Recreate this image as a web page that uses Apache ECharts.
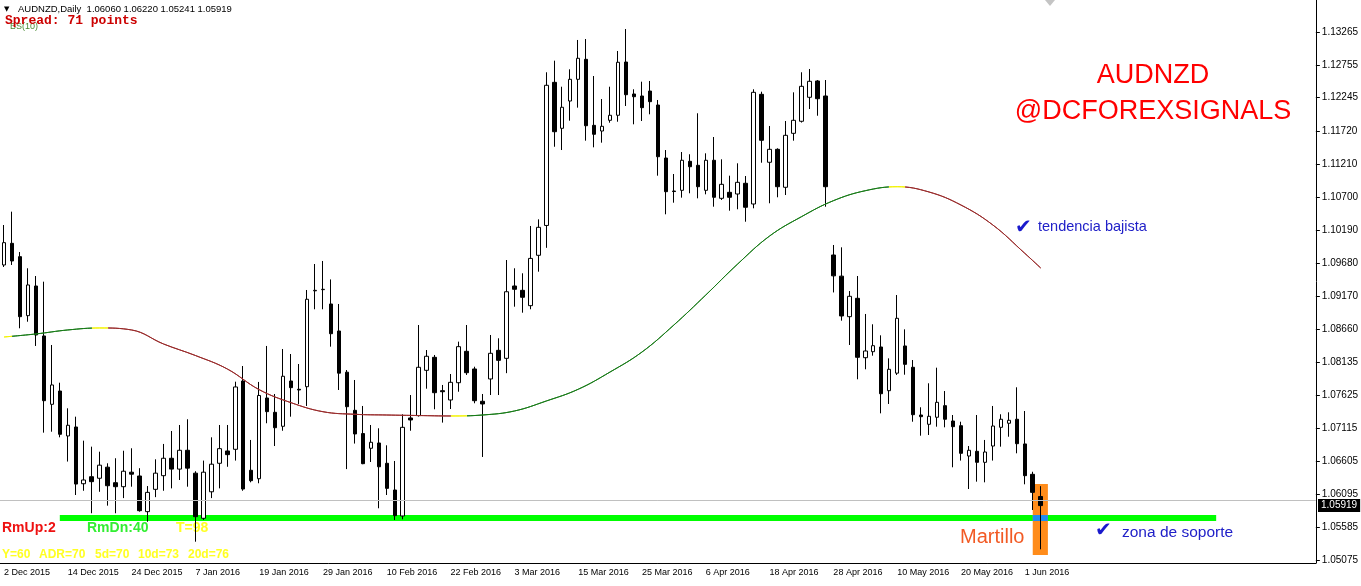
<!DOCTYPE html>
<html><head><meta charset="utf-8">
<script src="https://cdn.jsdelivr.net/npm/echarts@6/dist/echarts.min.js"></script>
<style>html,body{margin:0;padding:0;background:#fff}#c{width:1361px;height:586px}</style>
</head><body><div id="c"></div>
<script>
const dates = [
'2 Dec 2015','3 Dec 2015','4 Dec 2015','7 Dec 2015','8 Dec 2015','9 Dec 2015','10 Dec 2015','11 Dec 2015','14 Dec 2015','15 Dec 2015','16 Dec 2015','17 Dec 2015','18 Dec 2015','21 Dec 2015','22 Dec 2015','23 Dec 2015','24 Dec 2015','28 Dec 2015','29 Dec 2015','30 Dec 2015','31 Dec 2015',
'4 Jan 2016','5 Jan 2016','6 Jan 2016','7 Jan 2016','8 Jan 2016','11 Jan 2016','12 Jan 2016','13 Jan 2016','14 Jan 2016','15 Jan 2016','18 Jan 2016','19 Jan 2016','20 Jan 2016','21 Jan 2016','22 Jan 2016','25 Jan 2016','26 Jan 2016','27 Jan 2016','28 Jan 2016','29 Jan 2016',
'1 Feb 2016','2 Feb 2016','3 Feb 2016','4 Feb 2016','5 Feb 2016','8 Feb 2016','9 Feb 2016','10 Feb 2016','11 Feb 2016','12 Feb 2016','15 Feb 2016','16 Feb 2016','17 Feb 2016','18 Feb 2016','19 Feb 2016','22 Feb 2016','23 Feb 2016','24 Feb 2016','25 Feb 2016','26 Feb 2016','29 Feb 2016',
'1 Mar 2016','2 Mar 2016','3 Mar 2016','4 Mar 2016','7 Mar 2016','8 Mar 2016','9 Mar 2016','10 Mar 2016','11 Mar 2016','14 Mar 2016','15 Mar 2016','16 Mar 2016','17 Mar 2016','18 Mar 2016','21 Mar 2016','22 Mar 2016','23 Mar 2016','24 Mar 2016','25 Mar 2016','28 Mar 2016','29 Mar 2016','30 Mar 2016','31 Mar 2016',
'1 Apr 2016','4 Apr 2016','5 Apr 2016','6 Apr 2016','7 Apr 2016','8 Apr 2016','11 Apr 2016','12 Apr 2016','13 Apr 2016','14 Apr 2016','15 Apr 2016','18 Apr 2016','19 Apr 2016','20 Apr 2016','21 Apr 2016','22 Apr 2016','25 Apr 2016','26 Apr 2016','27 Apr 2016','28 Apr 2016','29 Apr 2016',
'2 May 2016','3 May 2016','4 May 2016','5 May 2016','6 May 2016','9 May 2016','10 May 2016','11 May 2016','12 May 2016','13 May 2016','16 May 2016','17 May 2016','18 May 2016','19 May 2016','20 May 2016','23 May 2016','24 May 2016','25 May 2016','26 May 2016','27 May 2016','30 May 2016','31 May 2016',
'1 Jun 2016','2 Jun 2016','3 Jun 2016'
];
const shiftSlots = 34; // empty space to the right of the last bar (chart shift)

const opens = [1.09651,1.09987,1.09780,1.08865,1.09325,1.08550,1.07490,1.07696,1.06999,1.07138,1.06258,1.06367,1.06343,1.06515,1.06274,1.06212,1.06437,1.06378,1.05825,1.06171,1.06383,1.06653,1.06485,1.06777,1.06422,1.05722,1.06133,1.06575,1.06766,1.06792,1.07851,1.06467,1.06336,1.07588,1.07366,1.07149,1.07851,1.07723,1.07763,1.09250,1.09268,1.09046,1.08627,1.07988,1.07397,1.07036,1.06808,1.06890,1.06575,1.06161,1.05758,1.07278,1.07314,1.08017,1.08219,1.07701,1.07557,1.07825,1.08312,1.08038,1.07537,1.07883,1.08327,1.08203,1.09325,1.09258,1.09020,1.09801,1.10264,1.12484,1.11771,1.12194,1.12531,1.12841,1.11817,1.11729,1.11895,1.11973,1.12799,1.12303,1.12272,1.12349,1.12132,1.11310,1.10798,1.10809,1.11259,1.11197,1.10809,1.11275,1.10685,1.10778,1.10752,1.10918,1.10597,1.12298,1.11244,1.11445,1.10856,1.11693,1.11880,1.12252,1.12505,1.12272,1.09806,1.09478,1.08849,1.09134,1.08213,1.08306,1.08379,1.07701,1.07973,1.08395,1.08064,1.07324,1.07180,1.07289,1.07469,1.07231,1.07158,1.06688,1.06761,1.06590,1.06843,1.07133,1.07196,1.07258,1.06875,1.06404,1.06060];
const closes = [1.09997,1.09713,1.08849,1.09341,1.08565,1.07546,1.07790,1.07025,1.07165,1.06253,1.06316,1.06290,1.06546,1.06227,1.06212,1.06452,1.06406,1.05840,1.06124,1.06422,1.06653,1.06485,1.06777,1.06500,1.05747,1.06437,1.06561,1.06802,1.06709,1.07759,1.06176,1.06305,1.07627,1.07376,1.07127,1.07925,1.07748,1.07712,1.09119,1.09258,1.09274,1.08585,1.07973,1.07453,1.07030,1.06569,1.06901,1.06521,1.06186,1.05763,1.07133,1.07247,1.08064,1.08235,1.07670,1.07685,1.07831,1.08384,1.07980,1.07546,1.07495,1.08281,1.08172,1.09236,1.09274,1.09150,1.09753,1.10235,1.12438,1.11718,1.12097,1.12531,1.12857,1.11811,1.11678,1.11802,1.11973,1.12795,1.12292,1.12261,1.12091,1.12184,1.11330,1.10788,1.10790,1.11275,1.11175,1.10865,1.11275,1.10701,1.10902,1.10701,1.10933,1.10546,1.12329,1.11585,1.11445,1.10865,1.11662,1.11895,1.12422,1.12500,1.12230,1.10865,1.09482,1.08860,1.09165,1.08219,1.08317,1.08399,1.07654,1.08033,1.08824,1.08110,1.07329,1.07298,1.07304,1.07521,1.07258,1.07143,1.06730,1.06777,1.06590,1.06750,1.07153,1.07258,1.07242,1.06879,1.06383,1.06124,1.05919];
const lows = [1.09620,1.09651,1.08669,1.08771,1.08395,1.07050,1.07065,1.06978,1.06602,1.06083,1.06149,1.05800,1.06133,1.05918,1.05800,1.06035,1.06212,1.05825,1.05669,1.06050,1.06149,1.06186,1.06316,1.06212,1.05359,1.05696,1.06035,1.06186,1.06521,1.06617,1.06149,1.06280,1.06265,1.07196,1.06843,1.07080,1.07298,1.07495,1.07464,1.08964,1.08964,1.08384,1.07712,1.06485,1.06881,1.06561,1.06595,1.05877,1.06083,1.05696,1.05707,1.07080,1.07300,1.07732,1.07413,1.07206,1.07417,1.07685,1.07945,1.07506,1.06673,1.07634,1.07634,1.07973,1.09004,1.08911,1.08964,1.09547,1.09917,1.11485,1.11434,1.11889,1.12091,1.11579,1.11476,1.11548,1.11858,1.11873,1.12117,1.11833,1.11884,1.11988,1.11036,1.10437,1.10617,1.10695,1.10763,1.10685,1.10747,1.10555,1.10659,1.10493,1.10515,1.10322,1.10530,1.11237,1.10608,1.10701,1.10736,1.11579,1.11860,1.12070,1.11966,1.10555,1.09225,1.08787,1.08410,1.07878,1.08033,1.08244,1.07350,1.07495,1.07945,1.07949,1.07220,1.07003,1.07014,1.07143,1.07133,1.06513,1.06617,1.06176,1.06290,1.06280,1.06617,1.06833,1.06987,1.06730,1.06249,1.05851,1.05241];
const highs = [1.10271,1.10478,1.09852,1.09600,1.09480,1.09392,1.08410,1.07825,1.07428,1.07298,1.06926,1.06833,1.06755,1.06575,1.06653,1.06770,1.06808,1.06499,1.06222,1.06637,1.06875,1.07076,1.07169,1.07258,1.06452,1.06617,1.06978,1.07169,1.07169,1.07841,1.08084,1.06937,1.07837,1.08395,1.07650,1.08348,1.08270,1.08115,1.09263,1.09666,1.09713,1.09427,1.09046,1.08022,1.07867,1.07464,1.07169,1.07118,1.06854,1.06611,1.07335,1.07634,1.08720,1.08332,1.08255,1.07790,1.07960,1.08462,1.08720,1.08073,1.07650,1.08565,1.08514,1.09728,1.09600,1.09522,1.10256,1.10359,1.12640,1.12820,1.12416,1.12686,1.13141,1.13156,1.12582,1.12225,1.12416,1.12970,1.13311,1.12376,1.12494,1.12505,1.12210,1.11434,1.11062,1.11403,1.11368,1.12004,1.11383,1.11636,1.11290,1.11036,1.11228,1.11031,1.12376,1.12339,1.11807,1.11461,1.11884,1.12329,1.12640,1.12691,1.12520,1.12520,1.09961,1.09925,1.09247,1.09480,1.08891,1.08731,1.08560,1.08203,1.09185,1.08653,1.08177,1.07444,1.07816,1.08058,1.07696,1.07324,1.07220,1.06843,1.07324,1.06937,1.07464,1.07335,1.07366,1.07754,1.07386,1.06444,1.06220];

// indicator line (read every 4 bars)
const maIndex = [0,4,8,12,16,20,24,28,32,36,40,44,48,52,56,60,64,68,72,76,80,84,88,92,96,100,104,108,112,116,120,124,128,130];
const maValues = [1.08534,1.08581,1.08643,1.08674,1.08643,1.08426,1.08247,1.08038,1.07717,1.07515,1.07375,1.07335,1.07324,1.07316,1.07309,1.07324,1.07386,1.07541,1.07723,1.07991,1.08301,1.08720,1.09185,1.09666,1.10100,1.10400,1.10648,1.10803,1.10865,1.10783,1.10581,1.10271,1.09832,1.09604];

const yTickLabels = ['1.05075','1.05585','1.06095','1.06605','1.07115','1.07625','1.08135','1.08660','1.09170','1.09680','1.10190','1.10700','1.11210','1.11720','1.12245','1.12755','1.13265'];
const lastPrice = 1.05919;
const supportLevel = 1.05726;
const supportFrom = 7, supportTo = 152;
const hammerBar = 130, hammerTop = 1.06254, hammerBottom = 1.05152;

const categories = dates.concat(new Array(shiftSlots).fill(''));
const candleData = opens.map((o, i) => [o, closes[i], lows[i], highs[i]]);
const maData = maIndex.map((ix, i) => [ix, maValues[i]]);
const yTicks = yTickLabels.map(Number);

const GREEN = '#177a17', RED = '#982a2a', YEL = '#f2f200';
const FONT = '"Liberation Sans", Arial, sans-serif';

const chart = echarts.init(document.getElementById('c'), null, {renderer: 'canvas'});
chart.setOption({
  animation: false,
  backgroundColor: '#fff',
  grid: {left: -3, right: 45, top: 0, bottom: 23, containLabel: false},
  xAxis: {
    type: 'category', data: categories, boundaryGap: true,
    axisLine: {lineStyle: {color: '#000', width: 1}},
    axisTick: {alignWithLabel: true, length: 4, lineStyle: {color: '#000'},
      interval: (i, v) => i % 8 === 0 && v !== ''},
    axisLabel: {interval: 7, align: 'left', margin: 5, fontSize: 9, fontFamily: FONT, color: '#000'},
    splitLine: {show: false}
  },
  yAxis: {
    type: 'value', position: 'right', scale: true,
    min: 1.050285, max: 1.13761,
    axisLine: {show: true, lineStyle: {color: '#000', width: 1}},
    axisTick: {show: true, length: 4, inside: false, customValues: yTicks, lineStyle: {color: '#000'}},
    axisLabel: {customValues: yTicks, margin: 6, fontSize: 10, fontFamily: FONT, color: '#000',
      formatter: v => { let best = 0; yTicks.forEach((t, i) => { if (Math.abs(t - v) < Math.abs(yTicks[best] - v)) best = i; }); return yTickLabels[best]; }},
    splitLine: {show: false}
  },
  visualMap: {
    type: 'piecewise', show: false, dimension: 0, seriesIndex: 1,
    pieces: [
      {lt: 1, color: YEL}, {gte: 1, lt: 11, color: GREEN}, {gte: 11, lt: 13, color: YEL}, {gte: 13, lt: 56, color: RED},
      {gte: 56, lt: 58, color: YEL}, {gte: 58, lt: 111, color: GREEN}, {gte: 111, lt: 113, color: YEL},
      {gte: 113, color: RED}
    ]
  },
  series: [
    {
      type: 'candlestick', name: 'AUDNZD', data: candleData, barWidth: 4, z: 3,
      itemStyle: {color: '#fff', color0: '#000', borderColor: '#000', borderColor0: '#000', borderWidth: 1},
      markLine: {
        silent: true, symbol: ['none', 'none'], animation: false,
        lineStyle: {color: '#c0c0c0', width: 1, type: 'solid'},
        label: {show: false},
        data: [{yAxis: lastPrice}]
      }
    },
    {
      type: 'line', name: 'BS(10)', data: maData, smooth: 0.4, showSymbol: false, z: 4,
      lineStyle: {width: 1}
    },
    {
      type: 'custom', name: 'support', z: 1, silent: true,
      data: [[supportFrom, supportTo, supportLevel]], encode: {x: [0, 1], y: 2},
      renderItem: (params, api) => {
        const a = api.coord([api.value(0), api.value(2)]);
        const b = api.coord([api.value(1), api.value(2)]);
        return {type: 'rect', shape: {x: a[0], y: a[1] - 3, width: b[0] - a[0], height: 6}, style: {fill: '#00ff00'}};
      }
    },
    {
      type: 'custom', name: 'hammer', z: 2, silent: true,
      data: [[hammerBar, hammerTop, hammerBottom]], encode: {x: 0, y: [1, 2]},
      renderItem: (params, api) => {
        const t = api.coord([api.value(0), api.value(1)]);
        const b = api.coord([api.value(0), api.value(2)]);
        const w = api.size([1, 0])[0];
        const s = api.coord([api.value(0), supportLevel]);
        return {type: 'group', children: [
          {type: 'rect', shape: {x: t[0] - w, y: t[1], width: w * 1.9, height: b[1] - t[1]}, style: {fill: '#ff8c1a'}},
          {type: 'rect', shape: {x: t[0] - w, y: s[1] - 3, width: w * 1.9, height: 6}, style: {fill: '#1e8cf0'}}
        ]};
      }
    }
  ],
  graphic: {elements: [
    {type: 'text', x: 4, y: 9, style: {text: '▼', font: '7px "DejaVu Sans"', fill: '#000', verticalAlign: 'middle'}},
    {type: 'text', x: 18, y: 9, style: {text: 'AUDNZD,Daily  1.06060 1.06220 1.05241 1.05919', font: '9.5px ' + FONT, fill: '#000', verticalAlign: 'middle'}},
    {type: 'text', x: 10, y: 27, z: 1, style: {text: 'BS(10)', font: '9px ' + FONT, fill: '#4a8c34', verticalAlign: 'middle'}},
    {type: 'text', x: 5, y: 21, z: 2, style: {text: 'Spread: 71 points', font: 'bold 13px "Liberation Mono", monospace', fill: '#cc0000', verticalAlign: 'middle'}},
    {type: 'polygon', shape: {points: [[1045, 0], [1055, 0], [1050, 6]]}, style: {fill: '#c4c4c4'}},
    {type: 'text', x: 1153, y: 76, style: {text: 'AUDNZD', font: '27px ' + FONT, fill: '#ff0000', align: 'center', verticalAlign: 'middle'}},
    {type: 'text', x: 1153, y: 112, style: {text: '@DCFOREXSIGNALS', font: '27px ' + FONT, fill: '#ff0000', align: 'center', verticalAlign: 'middle'}},
    {type: 'text', x: 1015, y: 228, style: {text: '✔', font: '20px "DejaVu Sans"', fill: '#1a1acc', verticalAlign: 'middle'}},
    {type: 'text', x: 1038, y: 227, style: {text: 'tendencia bajista', font: '14.5px ' + FONT, fill: '#2020c8', verticalAlign: 'middle'}},
    {type: 'text', x: 1095, y: 531, style: {text: '✔', font: '20px "DejaVu Sans"', fill: '#1a1acc', verticalAlign: 'middle'}},
    {type: 'text', x: 1122, y: 533, style: {text: 'zona de soporte', font: '15.5px ' + FONT, fill: '#2020c8', verticalAlign: 'middle'}},
    {type: 'text', x: 960, y: 537, style: {text: 'Martillo', font: '20px ' + FONT, fill: '#f25a24', verticalAlign: 'middle'}},
    {type: 'text', x: 2, y: 528, style: {text: 'RmUp:2', font: 'bold 14px ' + FONT, fill: '#ee1111', verticalAlign: 'middle'}},
    {type: 'text', x: 87, y: 528, style: {text: 'RmDn:40', font: 'bold 14px ' + FONT, fill: '#33ee33', verticalAlign: 'middle'}},
    {type: 'text', x: 176, y: 528, style: {text: 'T=98', font: 'bold 14px ' + FONT, fill: '#ffff22', verticalAlign: 'middle'}},
    {type: 'text', x: 2, y: 555, style: {text: 'Y=60', font: 'bold 12px ' + FONT, fill: '#ffff22', verticalAlign: 'middle'}},
    {type: 'text', x: 39, y: 555, style: {text: 'ADR=70', font: 'bold 12px ' + FONT, fill: '#ffff22', verticalAlign: 'middle'}},
    {type: 'text', x: 95, y: 555, style: {text: '5d=70', font: 'bold 12px ' + FONT, fill: '#ffff22', verticalAlign: 'middle'}},
    {type: 'text', x: 138, y: 555, style: {text: '10d=73', font: 'bold 12px ' + FONT, fill: '#ffff22', verticalAlign: 'middle'}},
    {type: 'text', x: 188, y: 555, style: {text: '20d=76', font: 'bold 12px ' + FONT, fill: '#ffff22', verticalAlign: 'middle'}}
  ]}
});
// current-price tag on the price axis, placed through the chart's own scale
const lp = chart.convertToPixel({gridIndex: 0}, [0, lastPrice]);
chart.setOption({graphic: {elements: [
  {id: 'lastPriceTag', type: 'text', x: 1318, y: lp[1], z: 10,
   style: {text: lastPrice.toFixed(5), font: '10px ' + FONT, fill: '#fff', backgroundColor: '#000',
     padding: [2, 3, 1, 3], verticalAlign: 'middle'}}
]}});
</script>
</body></html>
